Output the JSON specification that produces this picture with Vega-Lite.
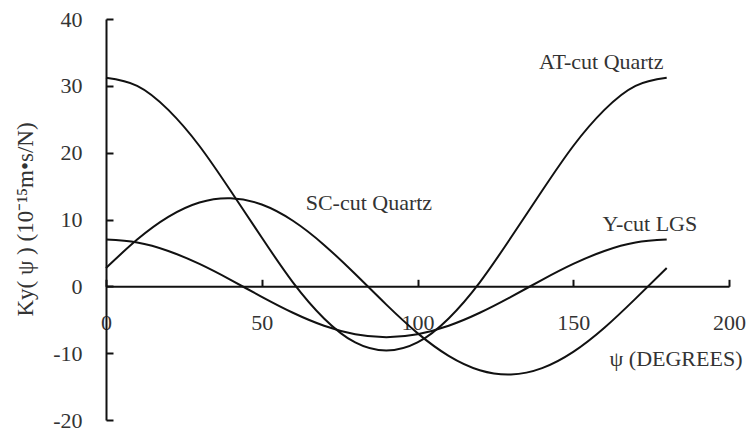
{
  "$schema": "https://vega.github.io/schema/vega-lite/v6.json",
  "width": 623,
  "height": 401,
  "autosize": {"type": "none"},
  "padding": {"left": 106, "top": 19, "right": 17, "bottom": 15},
  "background": "white",
  "config": {
    "view": {"stroke": null},
    "font": "Liberation Serif",
    "axis": {"grid": false, "labelFlush": false}
  },
  "datasets": {
    "curves": [
      {"psi": 0, "K": 31.2, "cut": "AT"}, {"psi": 10, "K": 30.0, "cut": "AT"}, {"psi": 20, "K": 26.4, "cut": "AT"},
      {"psi": 30, "K": 21.0, "cut": "AT"}, {"psi": 40, "K": 14.3, "cut": "AT"}, {"psi": 50, "K": 7.3, "cut": "AT"},
      {"psi": 60, "K": 0.6, "cut": "AT"}, {"psi": 70, "K": -4.8, "cut": "AT"}, {"psi": 80, "K": -8.4, "cut": "AT"},
      {"psi": 90, "K": -9.6, "cut": "AT"}, {"psi": 100, "K": -8.4, "cut": "AT"}, {"psi": 110, "K": -4.8, "cut": "AT"},
      {"psi": 120, "K": 0.6, "cut": "AT"}, {"psi": 130, "K": 7.3, "cut": "AT"}, {"psi": 140, "K": 14.3, "cut": "AT"},
      {"psi": 150, "K": 21.0, "cut": "AT"}, {"psi": 160, "K": 26.4, "cut": "AT"}, {"psi": 170, "K": 30.0, "cut": "AT"},
      {"psi": 180, "K": 31.2, "cut": "AT"},
      {"psi": 0, "K": 2.74, "cut": "SC"}, {"psi": 10, "K": 7.0, "cut": "SC"}, {"psi": 20, "K": 10.4, "cut": "SC"},
      {"psi": 30, "K": 12.55, "cut": "SC"}, {"psi": 40, "K": 13.19, "cut": "SC"}, {"psi": 50, "K": 12.24, "cut": "SC"},
      {"psi": 60, "K": 9.81, "cut": "SC"}, {"psi": 70, "K": 6.2, "cut": "SC"}, {"psi": 80, "K": 1.84, "cut": "SC"},
      {"psi": 90, "K": -2.74, "cut": "SC"}, {"psi": 100, "K": -7.0, "cut": "SC"}, {"psi": 110, "K": -10.4, "cut": "SC"},
      {"psi": 120, "K": -12.55, "cut": "SC"}, {"psi": 130, "K": -13.19, "cut": "SC"}, {"psi": 140, "K": -12.24, "cut": "SC"},
      {"psi": 150, "K": -9.81, "cut": "SC"}, {"psi": 160, "K": -6.2, "cut": "SC"}, {"psi": 170, "K": -1.84, "cut": "SC"},
      {"psi": 180, "K": 2.74, "cut": "SC"},
      {"psi": 0, "K": 7.0, "cut": "LGS"}, {"psi": 10, "K": 6.56, "cut": "LGS"}, {"psi": 20, "K": 5.29, "cut": "LGS"},
      {"psi": 30, "K": 3.35, "cut": "LGS"}, {"psi": 40, "K": 0.97, "cut": "LGS"}, {"psi": 50, "K": -1.57, "cut": "LGS"},
      {"psi": 60, "K": -3.95, "cut": "LGS"}, {"psi": 70, "K": -5.89, "cut": "LGS"}, {"psi": 80, "K": -7.16, "cut": "LGS"},
      {"psi": 90, "K": -7.6, "cut": "LGS"}, {"psi": 100, "K": -7.16, "cut": "LGS"}, {"psi": 110, "K": -5.89, "cut": "LGS"},
      {"psi": 120, "K": -3.95, "cut": "LGS"}, {"psi": 130, "K": -1.57, "cut": "LGS"}, {"psi": 140, "K": 0.97, "cut": "LGS"},
      {"psi": 150, "K": 3.35, "cut": "LGS"}, {"psi": 160, "K": 5.29, "cut": "LGS"}, {"psi": 170, "K": 6.56, "cut": "LGS"},
      {"psi": 180, "K": 7.0, "cut": "LGS"}
    ],
    "names": [
      {"psi": 159, "K": 33.6, "name": "AT-cut Quartz"},
      {"psi": 84.4, "K": 12.4, "name": "SC-cut Quartz"},
      {"psi": 174.6, "K": 9.4, "name": "Y-cut LGS"}
    ]
  },
  "resolve": {"axis": {"x": "independent", "y": "independent"}},
  "layer": [
    {
      "data": {"name": "curves"},
      "mark": {"type": "line", "interpolate": "natural", "color": "#111", "strokeWidth": 2},
      "encoding": {
        "x": {
          "field": "psi", "type": "quantitative",
          "scale": {"domain": [0, 200], "nice": false},
          "axis": {
            "orient": "top", "offset": -267.3,
            "values": [0, 50, 100, 150, 200],
            "domainColor": "#111", "domainWidth": 2,
            "ticks": true, "tickColor": "#111", "tickWidth": 2, "tickSize": 7,
            "labels": false, "title": null
          }
        },
        "y": {
          "field": "K", "type": "quantitative",
          "scale": {"domain": [-20, 40], "nice": false},
          "axis": {
            "orient": "right", "offset": -623,
            "values": [-20, -10, 0, 10, 20, 30, 40],
            "domainColor": "#111", "domainWidth": 2,
            "ticks": true, "tickColor": "#111", "tickWidth": 2, "tickSize": 7,
            "labels": false, "title": null
          }
        },
        "detail": {"field": "cut"}
      }
    },
    {
      "data": {"name": "names"},
      "mark": {"type": "text", "font": "Liberation Serif", "fontSize": 22, "color": "#333", "align": "center", "baseline": "middle"},
      "encoding": {
        "x": {
          "field": "psi", "type": "quantitative",
          "axis": {
            "orient": "bottom", "offset": -133.7,
            "values": [0, 50, 100, 150, 200],
            "domain": false, "ticks": false,
            "labelFont": "Liberation Serif", "labelFontSize": 22, "labelColor": "#333",
            "labelPadding": 26,
            "title": "ψ (DEGREES)",
            "titleFont": "Liberation Serif", "titleFontSize": 22, "titleFontWeight": "normal", "titleColor": "#333",
            "titleX": 636, "titleY": 72, "titleAlign": "right", "titleBaseline": "middle"
          }
        },
        "y": {
          "field": "K", "type": "quantitative",
          "axis": {
            "orient": "left",
            "values": [-20, -10, 0, 10, 20, 30, 40],
            "domain": false, "ticks": false,
            "labelExpr": "datum.value < 0 ? '-' + abs(datum.value) : '' + datum.value",
            "labelFont": "Liberation Serif", "labelFontSize": 22, "labelColor": "#333",
            "labelPadding": 24,
            "title": "Ky( ψ ) (10⁻¹⁵m•s/N)",
            "titleFont": "Liberation Serif", "titleFontSize": 23, "titleFontWeight": "normal", "titleColor": "#333",
            "titleX": -81, "titleY": 200, "titleAlign": "center", "titleBaseline": "middle", "titleAngle": -90
          }
        },
        "text": {"field": "name"}
      }
    }
  ]
}
